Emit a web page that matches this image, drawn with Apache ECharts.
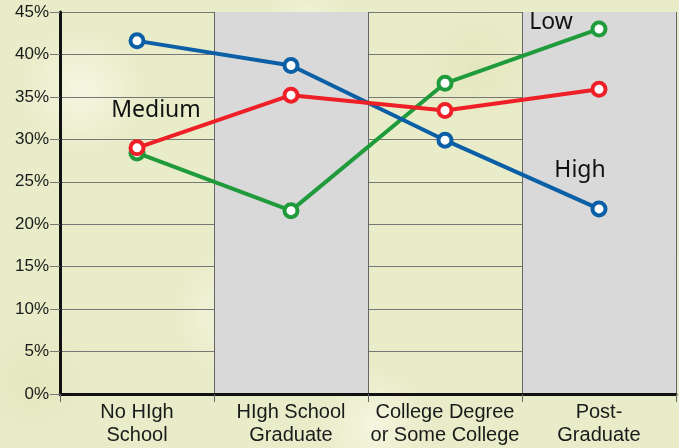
<!DOCTYPE html>
<html>
<head>
<meta charset="utf-8">
<script src="https://cdn.jsdelivr.net/npm/echarts@6/dist/echarts.min.js"></script>
<style>
	html, body { margin: 0; padding: 0; }
	body {
		width: 679px; height: 448px; overflow: hidden;
		background-color: #e9ecc8;
		background-image:
			radial-gradient(circle at 12% 20%, rgba(255,255,245,0.55) 0, rgba(255,255,245,0) 9%),
			radial-gradient(circle at 35% 70%, rgba(255,255,245,0.5) 0, rgba(255,255,245,0) 12%),
			radial-gradient(circle at 70% 15%, rgba(220,224,175,0.4) 0, rgba(220,224,175,0) 10%),
			radial-gradient(circle at 90% 60%, rgba(255,255,245,0.45) 0, rgba(255,255,245,0) 11%),
			radial-gradient(circle at 5% 85%, rgba(220,224,175,0.4) 0, rgba(220,224,175,0) 8%),
			radial-gradient(circle at 55% 95%, rgba(255,255,245,0.5) 0, rgba(255,255,245,0) 10%),
			radial-gradient(circle at 45% 8%, rgba(255,255,245,0.45) 0, rgba(255,255,245,0) 9%);
	}
	#chart { width: 679px; height: 448px; }
</style>
</head>
<body>
<div id="chart"></div>
<script>
	var categories = ['No HIgh\nSchool', 'HIgh School\nGraduate', 'College Degree\nor Some College', 'Post-\nGraduate'];
	var yTicks = [0, 5, 10, 15, 20, 25, 30, 35, 40, 45];
	var highValues = [41.6, 38.7, 29.9, 21.8];
	var mediumValues = [29.0, 35.2, 33.4, 35.9];
	var lowValues = [28.4, 21.6, 36.6, 43.0];

	var colorList = {
		high: '#0b5fa6',
		medium: '#ee1f26',
		low: '#1f9b3b'
	};

	// one visible name label per line, placed next to a chosen point
	function buildData(values, labelIndex, name, offset) {
		var out = [];
		for (var i = 0; i < values.length; i++) {
			var item = { value: values[i] };
			if (i === labelIndex) {
				item.label = {
					show: true,
					formatter: name,
					position: 'inside',
					offset: offset,
					color: '#111',
					fontSize: 23,
					fontFamily: 'Noto Sans'
				};
			}
			out.push(item);
		}
		return out;
	}

	function lineSeries(name, values, color, labelIndex, offset) {
		return {
			name: name,
			type: 'line',
			data: buildData(values, labelIndex, name, offset),
			symbol: 'circle',
			symbolSize: 13,
			lineStyle: { color: color, width: 4 },
			itemStyle: { color: '#fff', borderColor: color, borderWidth: 4 },
			label: { show: false },
			emphasis: { disabled: true }
		};
	}

	var chart = echarts.init(document.getElementById('chart'));
	chart.setOption({
		backgroundColor: 'transparent',
		animation: false,
		grid: { left: 60, right: 3, top: 12, bottom: 54, containLabel: false },
		xAxis: {
			type: 'category',
			data: categories,
			boundaryGap: true,
			axisLine: { show: true, lineStyle: { color: '#111', width: 3 } },
			axisTick: { show: true, alignWithLabel: false, length: 8, lineStyle: { color: '#666', width: 1 } },
			axisLabel: {
				color: '#1a1a1a',
				fontSize: 20,
				fontFamily: 'Liberation Sans',
				lineHeight: 23,
				margin: 7,
				interval: 0
			},
			splitLine: { show: true, interval: 0, lineStyle: { color: '#666', width: 1 } },
			splitArea: { show: true, interval: 0, areaStyle: { color: ['rgba(0,0,0,0)', '#d9d9d9'] } }
		},
		yAxis: {
			type: 'value',
			min: yTicks[0],
			max: yTicks[yTicks.length - 1],
			interval: 5,
			axisLine: { show: true, lineStyle: { color: '#111', width: 3 } },
			axisTick: { show: true, length: 10, lineStyle: { color: '#777', width: 1 } },
			axisLabel: {
				color: '#1a1a1a',
				fontSize: 17,
				fontFamily: 'Liberation Sans',
				margin: 11,
				formatter: '{value}%'
			},
			splitLine: { show: true, lineStyle: { color: '#777', width: 1 } }
		},
		series: [
			lineSeries('Low', lowValues, colorList.low, 3, [-48, -7]),
			lineSeries('High', highValues, colorList.high, 3, [-19, -38]),
			lineSeries('Medium', mediumValues, colorList.medium, 0, [19, -37])
		]
	});
</script>
</body>
</html>
